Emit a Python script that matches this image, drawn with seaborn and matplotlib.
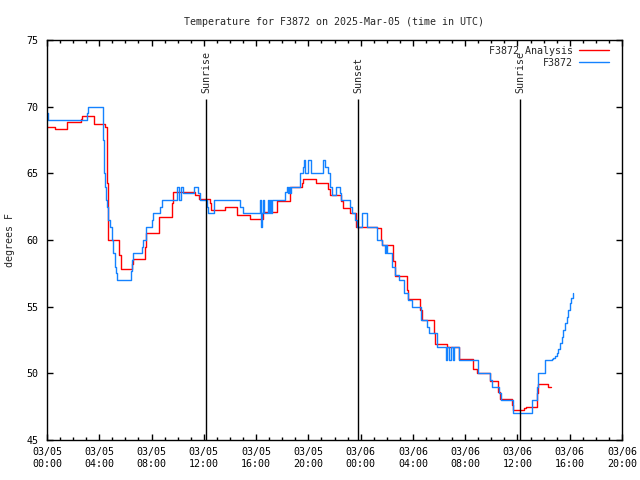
import numpy as np
import pandas as pd
import matplotlib
matplotlib.use("Agg")
import matplotlib.pyplot as plt
import matplotlib.dates as mdates
from matplotlib.lines import Line2D
import seaborn as sns

start = pd.Timestamp("2025-03-05 00:00")

# station F3872 (hours after 03/05 00:00 UTC, deg F), step values
obs_hours = [0.0, 0.05, 3.04, 3.1, 4.31, 4.38, 4.44, 4.5, 4.57, 4.69, 4.82, 4.95, 5.08, 5.2, 5.3,
             5.38, 6.4, 6.5, 6.61, 7.24, 7.37, 7.58, 8.01, 8.09, 8.65, 8.77, 9.97, 10.12, 10.23,
             10.38, 11.25, 11.58, 11.71, 12.22, 12.35, 12.8, 14.8, 15.0, 16.3, 16.38, 16.45,
             16.55, 16.62, 16.94, 17.0, 17.08, 17.15, 17.22, 18.21, 18.34, 18.42, 18.5, 18.58,
             18.65, 19.36, 19.62, 19.7, 19.76, 20.0, 20.18, 21.15, 21.27, 21.53, 21.66, 21.8,
             22.11, 22.42, 22.5, 23.19, 23.31, 23.57, 23.75, 24.08, 24.46, 25.23, 25.61, 25.86,
             25.95, 26.05, 26.38, 26.63, 26.96, 27.32, 27.65, 27.9, 28.6, 29.1, 29.26, 29.87,
             30.53, 30.63, 30.78, 30.91, 31.04, 31.17, 31.55, 32.96, 33.9, 34.03, 34.61, 34.72,
             35.64, 37.09, 37.47, 37.6, 38.1, 38.49, 38.62, 38.74, 38.87, 39.0, 39.13, 39.26,
             39.38, 39.51, 39.64, 39.77, 39.9, 40.02, 40.13, 40.23]
obs_temp = [69.5, 69.0, 69.5, 70.0, 67.5, 65.0, 64.0, 63.0, 62.5, 61.5, 61.0, 60.0, 59.0, 58.0, 57.5,
            57.0, 57.7, 58.5, 59.0, 59.5, 60.0, 61.0, 61.5, 62.0, 62.5, 63.0, 64.0, 63.0, 64.0,
            63.5, 64.0, 63.5, 63.0, 62.5, 62.0, 63.0, 62.5, 62.0, 63.0, 61.0, 62.0,
            63.0, 62.0, 63.0, 62.0, 63.0, 62.0, 63.0, 63.6, 64.0, 63.5, 64.0, 63.5,
            64.0, 65.0, 65.5, 66.0, 65.0, 66.0, 65.0, 66.0, 65.5, 65.0, 64.0, 63.4,
            64.0, 63.5, 63.0, 62.5, 62.0, 61.5, 61.0, 62.0, 61.0, 60.0, 59.6, 59.0,
            59.6, 59.0, 58.0, 57.4, 57.0, 56.0, 55.5, 55.0, 54.0, 53.5, 53.0, 52.0,
            51.0, 52.0, 51.0, 52.0, 51.0, 52.0, 51.0, 50.0, 49.5, 49.0, 48.5, 48.0,
            47.0, 48.0, 49.0, 50.0, 51.0, 51.0, 51.05, 51.15, 51.3, 51.5, 51.85, 52.25,
            52.75, 53.25, 53.75, 54.25, 54.75, 55.25, 55.65, 56.0]

# F3872 Analysis
ana_hours = [0.0, 0.61, 1.56, 2.58, 2.65, 3.6, 4.44, 4.57, 4.64, 5.54, 5.64, 6.5, 6.61, 7.53, 7.58,
             8.57, 9.54, 9.62, 11.33, 11.6, 12.47, 12.55, 13.62, 14.56, 15.53, 16.55, 17.57,
             18.6, 19.49, 19.62, 20.58, 21.53, 21.66, 22.47, 22.62, 23.19, 23.62, 25.23, 25.53,
             25.61, 26.5, 26.63, 27.52, 27.65, 28.54, 28.67, 29.6, 29.7, 30.58, 31.55, 32.57,
             32.93, 33.9, 34.54, 34.67, 35.56, 35.64, 36.5, 36.65, 37.47, 37.6, 38.36, 38.54]
ana_temp = [68.45, 68.3, 68.88, 69.1, 69.3, 68.7, 68.5, 64.25, 60.0, 58.9, 57.8, 58.2, 58.6, 59.5, 60.5,
            61.75, 62.8, 63.6, 63.4, 63.1, 62.8, 62.25, 62.45, 61.9, 61.6, 62.1, 62.9,
            64.0, 64.3, 64.6, 64.3, 63.8, 63.4, 62.9, 62.4, 62.0, 61.0, 60.9, 60.0,
            59.6, 58.4, 57.3, 56.25, 55.6, 54.75, 54.0, 53.0, 52.2, 52.0, 51.05, 50.3,
            50.0, 49.4, 48.6, 48.07, 47.6, 47.25, 47.4, 47.45, 48.5, 49.2, 49.0, 49.0]

sun_hours = [12.17, 23.8, 36.2]
sun_labels = ["Sunrise", "Sunset", "Sunrise"]

series_names = ["F3872 Analysis", "F3872"]
colors = {"F3872 Analysis": "#ff0000", "F3872": "#1482ff"}

df = pd.concat([
    pd.DataFrame({"time": start + pd.to_timedelta(ana_hours, unit="h"), "temp": ana_temp,
                  "series": "F3872 Analysis"}),
    pd.DataFrame({"time": start + pd.to_timedelta(obs_hours, unit="h"), "temp": obs_temp,
                  "series": "F3872"}),
], ignore_index=True)

sns.set_style("white")
plt.rcParams["font.family"] = ["DejaVu Sans Mono"]
plt.rcParams["font.size"] = 7.2

fig = plt.figure(figsize=(6.4, 4.8), dpi=100)
ax = fig.add_axes([47 / 640, 40 / 480, 575 / 640, 400 / 480])

sns.lineplot(data=df, x="time", y="temp", hue="series", hue_order=series_names,
             palette=colors, drawstyle="steps-post", estimator=None, sort=False,
             linewidth=1, legend=False, ax=ax)

sun_times = start + pd.to_timedelta(sun_hours, unit="h")
ax.vlines(sun_times, 45, 70.6, color="black", linewidth=1)
for t, lab in zip(sun_times, sun_labels):
    ax.text(t, 71.0, lab, rotation=90, ha="center", va="bottom", fontsize=7.2)

ax.set_xlim(start, start + pd.Timedelta(hours=44))
ax.set_ylim(45, 75)
ax.set_yticks(range(45, 76, 5))
ax.xaxis.set_major_locator(mdates.HourLocator(byhour=range(0, 24, 4)))
ax.xaxis.set_minor_locator(mdates.HourLocator(byhour=range(24)))
ax.xaxis.set_major_formatter(mdates.DateFormatter("%m/%d\n%H:%M"))

ax.tick_params(which="both", direction="in", top=True, right=True, bottom=True, left=True,
               color="black", labelsize=7.2, labelcolor="black")
ax.tick_params(which="major", length=4, width=1)
ax.tick_params(which="minor", length=2, width=1)
ax.tick_params(axis="x", pad=5)
ax.tick_params(axis="y", pad=6)
for s in ax.spines.values():
    s.set_color("black")
    s.set_linewidth(1)

ax.set_xlabel("")
ax.set_ylabel("degrees F", fontsize=7.2)
ax.yaxis.set_label_coords(-0.056, 0.5)
ax.set_title("Temperature for F3872 on 2025-Mar-05 (time in UTC)", fontsize=7.2, pad=11)

handles = [Line2D([], [], color=colors[n], linewidth=1) for n in series_names]
ax.legend(handles, series_names, loc="upper right", bbox_to_anchor=(0.988, 1.0),
          frameon=False, markerfirst=False, handlelength=3.0, handletextpad=0.6,
          labelspacing=0.2, borderaxespad=0.2, fontsize=7.2)

fig.savefig("out.png", dpi=100)
